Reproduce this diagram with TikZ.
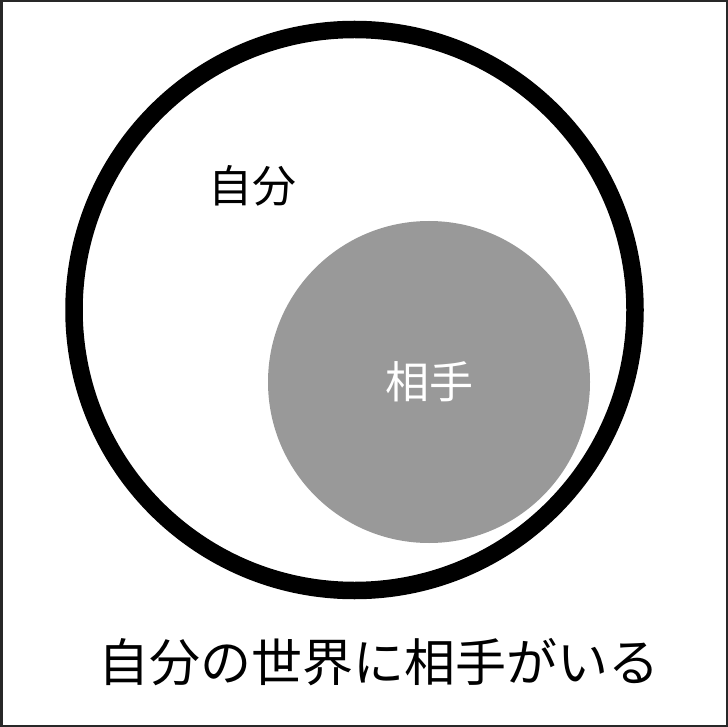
\documentclass[tikz,border=0pt]{standalone}
\usepackage{fontspec}
\setmainfont{Noto Sans CJK JP}
\usepackage{tikz}
\tikzset{>=latex}
\usetikzlibrary{calc,positioning}
\definecolor{partner}{RGB}{153,153,153}
\definecolor{frame}{RGB}{40,40,40}
\tikzset{
  ring/.style={draw=black, line width=17.5pt},
  partnerdisc/.style={fill=partner, draw=none},
  label/.style={inner sep=0pt, font=\fontsize{44}{44}\selectfont},
  caption/.style={inner sep=0pt, font=\fontsize{51}{51}\selectfont}
}

\begin{document}
\begin{tikzpicture}[x=1pt,y=-1pt]
            \useasboundingbox (0,0) rectangle (728,727);
            \draw[frame, line width=2.5pt] (1.25,1.25) rectangle (726.75,725.75);

            \draw[ring] (354.5,310) circle (280.5);
            \fill[partnerdisc] (429,382) circle (161);

            \node[label] (self) at (252,186) {自分};
            \node[label, text=white] (other) at (429,382) {相手};

            \node[caption] (title) at (379,662) {自分の世界に相手がいる};
\end{tikzpicture}
\end{document}
